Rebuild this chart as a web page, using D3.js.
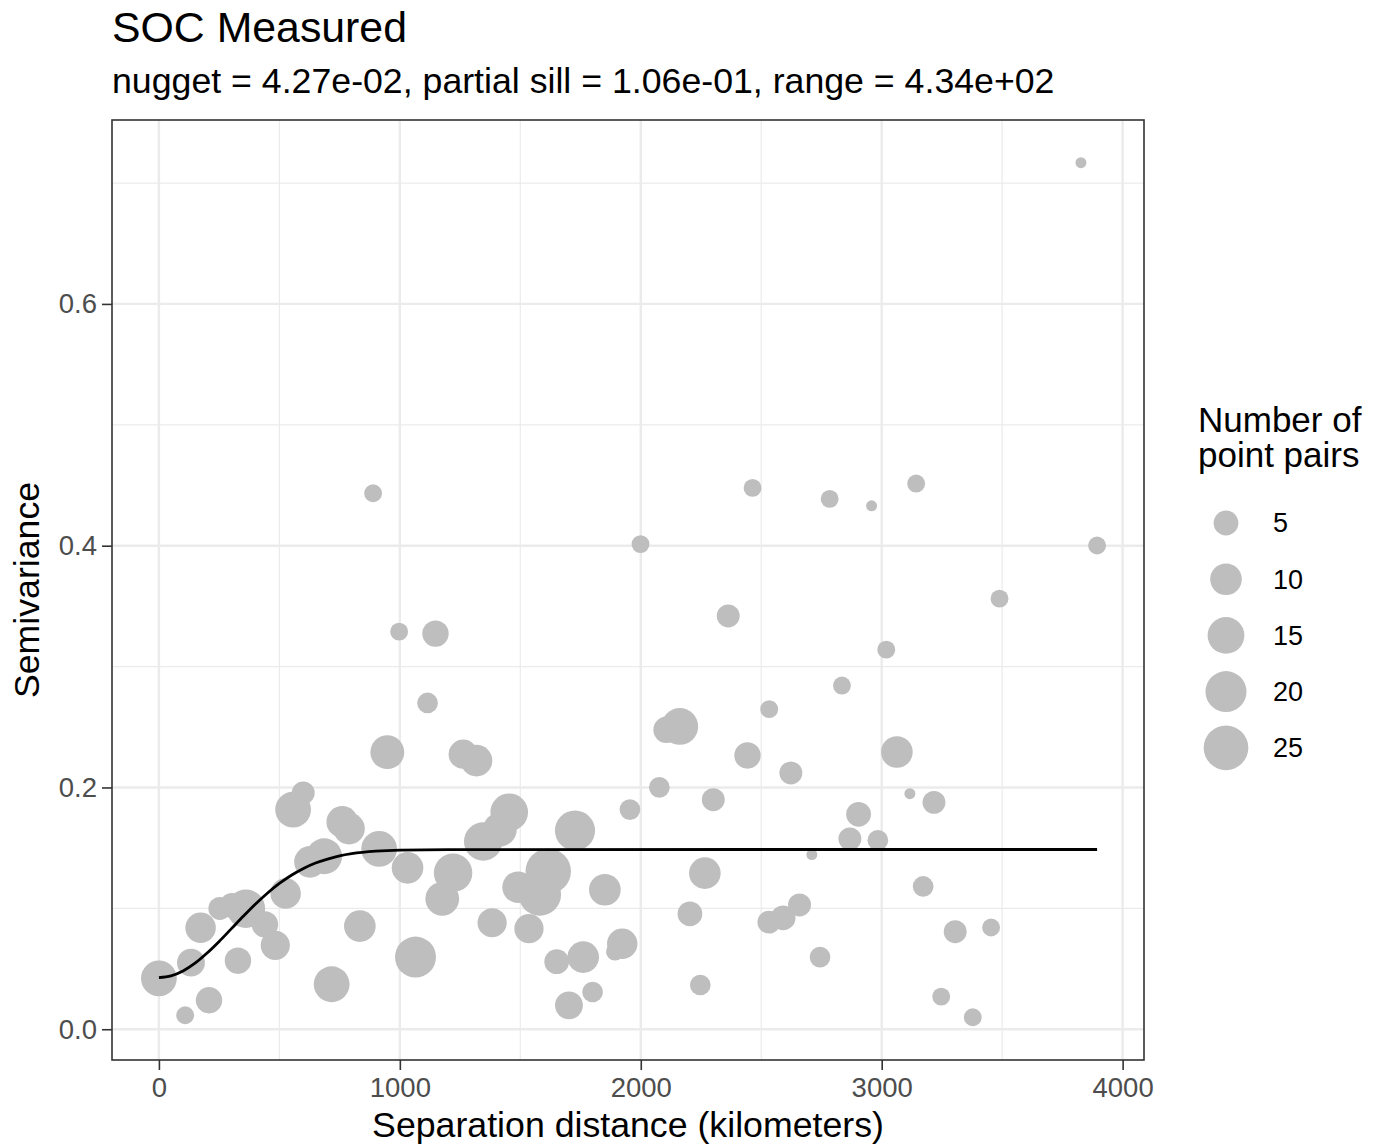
<!DOCTYPE html>
<html>
<head>
<meta charset="utf-8">
<script src="https://cdn.jsdelivr.net/npm/d3@7"></script>
<style>
  body { margin: 0; background: #fff; }
  svg text { font-family: "Liberation Sans", Arial, Helvetica, sans-serif; }
</style>
</head>
<body>
<div class="chart"></div>
<script>
// empirical variogram bins: lag distance (km), semivariance, number of point pairs
const lagDist = [0, 109, 133, 173, 208, 253, 303, 328, 361, 440, 483, 526, 557, 599, 627, 686, 717, 761, 789, 834,
  889, 914, 948, 997, 1032, 1065, 1115, 1148, 1176, 1221, 1263, 1318, 1346, 1383, 1415, 1454, 1491, 1536, 1581, 1616,
  1651, 1702, 1727, 1761, 1800, 1851, 1893, 1923, 1955, 1999, 2077, 2107, 2162, 2204, 2247, 2266, 2301, 2363, 2443, 2464,
  2532, 2533, 2591, 2623, 2659, 2710, 2744, 2784, 2835, 2868, 2904, 2958, 2984, 3019, 3063, 3117, 3143, 3172, 3217, 3247,
  3305, 3378, 3454, 3489, 3827, 3894];
const semivar = [0.0421, 0.0116, 0.0551, 0.0840, 0.0240, 0.0999, 0.1024, 0.0567, 0.0997, 0.0867, 0.0694, 0.1123, 0.1817, 0.1955, 0.1385, 0.1431, 0.0372, 0.1715, 0.1660, 0.0853,
  0.4434, 0.1492, 0.2292, 0.3289, 0.1335, 0.0597, 0.2699, 0.3273, 0.1079, 0.1294, 0.2275, 0.2222, 0.1553, 0.0881, 0.1652, 0.1795, 0.1175, 0.0832, 0.1115, 0.1307,
  0.0559, 0.0198, 0.1643, 0.0597, 0.0308, 0.1154, 0.0642, 0.0708, 0.1817, 0.4013, 0.2001, 0.2477, 0.2505, 0.0955, 0.0366, 0.1291, 0.1899, 0.3419, 0.2265, 0.4478,
  0.0886, 0.2648, 0.0922, 0.2120, 0.1028, 0.1445, 0.0597, 0.4387, 0.2843, 0.1575, 0.1778, 0.4330, 0.1563, 0.3140, 0.2293, 0.1949, 0.4514, 0.1181, 0.1877, 0.0270,
  0.0807, 0.0099, 0.0842, 0.3562, 0.7168, 0.4002];
const nPairs = [14, 2, 7, 9, 6, 4, 5, 6, 17, 6, 8, 9, 14, 4, 10, 14, 14, 10, 10, 10,
  2, 14, 12, 2, 10, 20, 3, 6, 12, 17, 8, 10, 17, 8, 12, 16, 10, 8, 22, 26,
  5, 7, 19, 10, 3, 10, 2, 9, 3, 2, 3, 6, 15, 5, 3, 10, 4, 4, 6, 2,
  4, 2, 5, 4, 4, 1, 3, 2, 2, 4, 5, 1, 3, 2, 10, 1, 2, 3, 4, 2,
  4, 2, 2, 2, 1, 2];

// fitted model line
const modelDist = [0, 50, 100, 150, 200, 250, 300, 350, 400, 450, 500, 550, 600, 650, 700, 750, 800, 900, 1000, 1200, 3894];
const modelGamma = [0.0427, 0.0441, 0.0482, 0.0546, 0.0630, 0.0726, 0.0830, 0.0934, 0.1034, 0.1125, 0.1206, 0.1274, 0.1330,
  0.1375, 0.1408, 0.1434, 0.1452, 0.1473, 0.1482, 0.1486, 0.1487];

const legendBreaks = [5, 10, 15, 20, 25];
const xTicks = [0, 1000, 2000, 3000, 4000];
const yTicks = [0, 0.2, 0.4, 0.6];

const titleText = "SOC Measured";
const subtitleText = "nugget = 4.27e-02, partial sill = 1.06e-01, range = 4.34e+02";

const W = 1382, H = 1146;
const panel = {left: 112, right: 1144, top: 120, bottom: 1060};

const svg = d3.select('.chart').append('svg')
    .attr("width", W)
    .attr("height", H);

svg.append("rect").attr("width", W).attr("height", H).attr("fill", "white");

const points = lagDist.map((d, i) => ({dist: d, gamma: semivar[i], n: nPairs[i]}));
const model = modelDist.map((d, i) => ({dist: d, gamma: modelGamma[i]}));

// ggplot-style 5% expansion
function expand(ext) {
    const pad = (ext[1] - ext[0]) * 0.05;
    return [ext[0] - pad, ext[1] + pad];
}

const xExt = d3.extent(lagDist.concat(modelDist));
const yExt = d3.extent(semivar.concat(modelGamma));

const x = d3.scaleLinear().domain(expand(xExt)).range([panel.left, panel.right]);
const y = d3.scaleLinear().domain(expand(yExt)).range([panel.bottom, panel.top]);

const nMin = d3.min(nPairs), nMax = d3.max(nPairs);
const size = d3.scaleSqrt().domain([0, nMax - nMin]).range([5.5, 22.7]);
const radius = n => size(n - nMin);

// grid
const grid = svg.append("g");
const xMinor = [500, 1500, 2500, 3500];
const yMinor = [0.1, 0.3, 0.5, 0.7];

grid.selectAll(".xminor").data(xMinor).enter().append("line")
    .attr("x1", d => x(d)).attr("x2", d => x(d))
    .attr("y1", panel.top).attr("y2", panel.bottom)
    .attr("stroke", "#EBEBEB").attr("stroke-width", 1.2);
grid.selectAll(".yminor").data(yMinor).enter().append("line")
    .attr("y1", d => y(d)).attr("y2", d => y(d))
    .attr("x1", panel.left).attr("x2", panel.right)
    .attr("stroke", "#EBEBEB").attr("stroke-width", 1.2);
grid.selectAll(".xmajor").data(xTicks).enter().append("line")
    .attr("x1", d => x(d)).attr("x2", d => x(d))
    .attr("y1", panel.top).attr("y2", panel.bottom)
    .attr("stroke", "#EBEBEB").attr("stroke-width", 2.4);
grid.selectAll(".ymajor").data(yTicks).enter().append("line")
    .attr("y1", d => y(d)).attr("y2", d => y(d))
    .attr("x1", panel.left).attr("x2", panel.right)
    .attr("stroke", "#EBEBEB").attr("stroke-width", 2.4);

// points
svg.append("g").selectAll("circle")
    .data(points)
    .enter()
    .append("circle")
    .attr("cx", d => x(d.dist))
    .attr("cy", d => y(d.gamma))
    .attr("r", d => radius(d.n))
    .attr("fill", "#BEBEBE");

// model line
const line = d3.line()
    .x(d => x(d.dist))
    .y(d => y(d.gamma))
    .curve(d3.curveMonotoneX);

svg.append("path")
    .datum(model)
    .attr("d", line)
    .attr("fill", "none")
    .attr("stroke", "black")
    .attr("stroke-width", 2.8);

// panel border
svg.append("rect")
    .attr("x", panel.left).attr("y", panel.top)
    .attr("width", panel.right - panel.left)
    .attr("height", panel.bottom - panel.top)
    .attr("fill", "none")
    .attr("stroke", "#333333")
    .attr("stroke-width", 1.6);

// axes
const xAxis = svg.append("g")
    .attr("transform", "translate(0," + panel.bottom + ")")
    .call(d3.axisBottom(x).tickValues(xTicks).tickFormat(d3.format("d")).tickSize(10).tickPadding(7));
const yAxis = svg.append("g")
    .attr("transform", "translate(" + panel.left + ",0)")
    .call(d3.axisLeft(y).tickValues(yTicks).tickFormat(d3.format(".1f")).tickSize(10).tickPadding(5));

[xAxis, yAxis].forEach(a => {
    a.select(".domain").remove();
    a.selectAll(".tick line").attr("stroke", "#333333").attr("stroke-width", 1.6);
    a.selectAll(".tick text")
        .attr("fill", "#4D4D4D")
        .style("font-size", "27.5px")
        .style("font-family", '"Liberation Sans", Arial, sans-serif');
});

// titles
svg.append("text")
    .attr("x", panel.left).attr("y", 42)
    .style("font-size", "42.8px")
    .text(titleText);
svg.append("text")
    .attr("x", panel.left).attr("y", 93)
    .style("font-size", "35.7px")
    .text(subtitleText);

svg.append("text")
    .attr("x", (panel.left + panel.right) / 2).attr("y", 1137)
    .attr("text-anchor", "middle")
    .style("font-size", "35.7px")
    .text("Separation distance (kilometers)");

svg.append("text")
    .attr("transform", "translate(39," + (panel.top + panel.bottom) / 2 + ") rotate(-90)")
    .attr("text-anchor", "middle")
    .style("font-size", "35.7px")
    .text("Semivariance");

// size legend
const legend = svg.append("g").attr("transform", "translate(1198,0)");
legend.append("text").attr("x", 0).attr("y", 432).style("font-size", "35px").text("Number of");
legend.append("text").attr("x", 0).attr("y", 467).style("font-size", "35px").text("point pairs");

const keys = legend.selectAll(".key")
    .data(legendBreaks)
    .enter()
    .append("g")
    .attr("transform", (d, i) => "translate(0," + (523 + i * 56.2) + ")");
keys.append("circle")
    .attr("cx", 28)
    .attr("r", d => radius(d))
    .attr("fill", "#BEBEBE");
keys.append("text")
    .attr("x", 75)
    .attr("dy", "0.35em")
    .style("font-size", "27px")
    .text(d => d);
</script>
</body>
</html>
